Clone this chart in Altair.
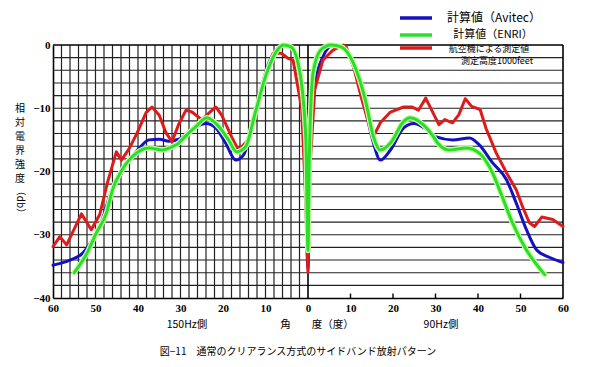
import altair as alt
import pandas as pd

# ---- data (angle: negative = 150Hz side, positive = 90Hz side; dB) ----
blue_angle = [-60, -56, -53, -50.7, -48.4, -46.7, -44.4, -42, -39.7, -37.4, -35, -32.7, -30.4,
              -26.4, -24, -21.7, -19.4, -17, -15.2, -13.3, -11.7, -10, -8.6, -7, -5.4, -3.5,
              -1.6, -0.8, 0, 0.5, 1.9, 3.5, 5.9, 8.3, 10.7, 13, 15.4, 17, 19.4, 22.5, 24.9,
              28, 30, 34, 38, 40.3, 43.4, 46.7, 49, 51.4, 53.8, 56.9, 60]
blue_db = [-34.8, -34.0, -32.9, -30.8, -27.6, -24.0, -20.9, -18.2, -16.3, -15.0, -14.9, -15.2, -14.9,
           -12.9, -12.4, -13.1, -15.5, -18.2, -17.4, -13.4, -8.7, -4.4, -1.9, -0.5, 0, -0.8,
           -7, -15, -35.5, -15, -5.5, -1.9, 0, -0.3, -3.4, -8.7, -15.5, -18.2, -16.6, -13.1, -12.4,
           -13.4, -14.5, -15.0, -14.7, -15.8, -18.6, -21.3, -25, -29.2, -32.4, -33.6, -34.4]

green_angle = [-55, -52, -49.8, -47.4, -46, -43.7, -40.4, -37.4, -34.3, -32, -30.4, -29.7, -26.4,
               -23.8, -21, -18.7, -16.8, -14.7, -12.4, -10, -7.7, -5.8, -4, -1.9, -0.5, 0,
               0.3, 1.2, 3, 5.4, 7.8, 10.7, 13.5, 15.4, 17, 19.4, 22.5, 24, 27.1, 29.5, 30.5,
               33.2, 37.2, 40.3, 43.4, 45.7, 48.1, 51.4, 55.7]
green_db = [-36, -32.9, -29.7, -26.5, -22.9, -19.7, -17.1, -16.3, -16.6, -16.1, -15.5, -15, -12.9,
            -11.5, -12.9, -15, -16.9, -16.1, -10.7, -5, -1.3, 0, -0.3, -4.4, -15, -32.5,
            -18, -4.4, -0.8, 0, -0.3, -2.9, -8.7, -14.5, -16.6, -15.5, -12.1, -11.5, -12.6, -14.5, -15.5,
            -16.6, -16.3, -17.1, -20.2, -24, -28.1, -32.4, -36.3]

red_angle = [-60, -58.4, -56.8, -53.3, -51, -49, -47.2, -45.1, -43.9, -42, -40.2, -38.1, -36.7,
             -35, -33.4, -32, -30.4, -28.7, -27.3, -25, -21.7, -20.3, -18, -16.4, -14, -12.1,
             -10, -8.2, -6.3, -4.7, -3.5, -1.5, -0.5, 0, 0.5, 1.6, 3.5, 5.9, 8.3, 9, 10.7,
             12.5, 14.7, 15.4, 17, 19.4, 22.5, 24.4, 26, 27.7, 29.1, 30.8, 32.2, 34, 35.5, 37,
             38.5, 40.5, 41.9, 44.3, 46.7, 49, 50.5, 52.1, 53.3, 55, 57.6, 60]
red_db = [-31.9, -30.3, -31.6, -26.7, -29.2, -26.8, -21.8, -16.9, -18.2, -16.3, -13.9, -10.7, -9.8,
          -11.1, -13.9, -15.3, -12.5, -10.3, -10.6, -11.8, -9.8, -11.1, -14.5, -16.6, -15, -10.7,
          -5, -1.3, -1.3, -2.1, -2.4, -10, -25, -36, -19, -7, -2.4, -0.8, 0, -0.3, -3.4,
          -8.2, -13.4, -14.5, -12.3, -10.6, -9.8, -9.8, -10.3, -8.4, -10.3, -12.6, -11.8, -12.3, -11, -8.5,
          -9.7, -10.2, -13.2, -17.1, -20.2, -22.9, -25.6, -28.1, -28.7, -27.2, -27.6, -28.7]

x_tick_values = [-60, -50, -40, -30, -20, -10, 0, 10, 20, 30, 40, 50, 60]
y_tick_values = [0, -10, -20, -30, -40]

legend_labels = ["計算値（Avitec）", "計算値（ENRI）", "航空機による測定値", "測定高度1000feet"]
y_title_chars = ["相", "対", "電", "界", "強", "度"]
y_title_unit = "（db）"
x_side_left = "150Hz側"
x_side_right = "90Hz側"
x_title = "角　　度（度）"
caption = "図−11　通常のクリアランス方式のサイドバンド放射パターン"

BLUE = "#1212c4"
GREEN = "#27e027"
GREEN_HALO = "#c9f7a8"
RED = "#de1b1b"
GRID = "#222222"
SERIF = "Liberation Serif"
CJK = "Noto Sans CJK JP"

W, H = 510, 253

xs = alt.Scale(domain=[-60, 60], nice=False, zero=False)
ys = alt.Scale(domain=[-40, 0], nice=False, zero=False)


def df(a, d):
    return pd.DataFrame({"angle": a, "db": d})


# axes layer
axes = alt.Chart(pd.DataFrame({"angle": [-60, 60], "db": [-40, 0]})).mark_point(opacity=0).encode(
    x=alt.X("angle:Q", scale=xs, title=None,
            axis=alt.Axis(values=x_tick_values, labelExpr="abs(datum.value)", tickSize=0,
                          labelPadding=4, grid=False, domainColor="black", domainWidth=1.6,
                          labelFont=SERIF, labelFontSize=11, labelFontWeight="bold",
                          labelColor="black", labelFlush=False)),
    y=alt.Y("db:Q", scale=ys, title=None,
            axis=alt.Axis(values=y_tick_values, tickSize=0, labelPadding=3, grid=False,
                          domainColor="black", domainWidth=1.6, labelFont=SERIF,
                          labelFontSize=11, labelFontWeight="bold", labelColor="black",
                          labelFlush=False)),
)

vgrid = alt.Chart(pd.DataFrame({"angle": list(range(-58, 0, 2))})).mark_rule(
    color=GRID, strokeWidth=1.2).encode(
    x=alt.X("angle:Q", scale=xs), y=alt.datum(-40), y2=alt.datum(0))

hgrid = alt.Chart(pd.DataFrame({"db": list(range(-38, 0, 2))})).mark_rule(
    color=GRID, strokeWidth=1.1).encode(
    y=alt.Y("db:Q", scale=ys), x=alt.datum(-60), x2=alt.datum(60))

vborders = alt.Chart(pd.DataFrame({"angle": [0, 60]})).mark_rule(
    color="black", strokeWidth=1.6).encode(
    x=alt.X("angle:Q", scale=xs), y=alt.datum(-40), y2=alt.datum(0))

top_border = alt.Chart(pd.DataFrame({"db": [0]})).mark_rule(
    color="black", strokeWidth=1.4).encode(
    y=alt.Y("db:Q", scale=ys), x=alt.datum(-60), x2=alt.datum(60))

right_ticks = alt.Chart(pd.DataFrame({"angle": [10, 20, 30, 40, 50]})).mark_rule(
    color="black", strokeWidth=1.4).encode(
    x=alt.X("angle:Q", scale=xs), y=alt.datum(-40), y2=alt.datum(-39.3))


def series(a, d, color, width, interp):
    return alt.Chart(df(a, d)).mark_line(color=color, strokeWidth=width, interpolate=interp,
                                         strokeJoin="round", strokeCap="round").encode(
        x=alt.X("angle:Q", scale=xs), y=alt.Y("db:Q", scale=ys), order="angle:Q")


blue_line = series(blue_angle, blue_db, BLUE, 3, "monotone")
green_halo = series(green_angle, green_db, GREEN_HALO, 5.5, "monotone")
green_line = series(green_angle, green_db, GREEN, 3, "monotone")
red_line = series(red_angle, red_db, RED, 3, "linear")

# legend samples
leg = pd.DataFrame({"c": [BLUE, GREEN, RED], "py": [-27, -10, 3]})
legend_lines = alt.Chart(leg).mark_rule(strokeWidth=3.5).encode(
    x=alt.value(347), x2=alt.value(379), y=alt.Y("py:Q", scale=None),
    color=alt.Color("c:N", scale=None))

texts = pd.DataFrame({
    "t": legend_labels + [x_side_left, x_title, x_side_right, caption],
    "px": [441, 440, 436, 444, 134, 264, 388, 245],
    "py": [-27, -10, 4, 16, 280, 280, 280, 307],
    "s": [12, 11, 9, 9, 10.5, 10.5, 10.5, 10],
})
text_layer = alt.Chart(texts).mark_text(font=CJK, color="black", align="center",
                                        baseline="middle").encode(
    x=alt.X("px:Q", scale=None), y=alt.Y("py:Q", scale=None), text="t:N",
    size=alt.Size("s:Q", scale=None))

ytitle = pd.DataFrame({"t": y_title_chars, "py": [64, 78, 92, 106, 120, 134]})
ytitle_layer = alt.Chart(ytitle).mark_text(font=CJK, fontSize=10, color="black",
                                           align="center", baseline="middle").encode(
    x=alt.value(-33), y=alt.Y("py:Q", scale=None), text="t:N")

yunit_layer = alt.Chart(pd.DataFrame({"t": [y_title_unit]})).mark_text(
    font=CJK, fontSize=10, color="black", angle=90, align="center", baseline="middle").encode(
    x=alt.value(-33), y=alt.value(157), text="t:N")

chart = alt.layer(
    axes, vgrid, hgrid, vborders, top_border, right_ticks,
    blue_line, red_line, green_halo, green_line,
    legend_lines, text_layer, ytitle_layer, yunit_layer,
).properties(
    width=W, height=H,
    autosize=alt.AutoSizeParams(type="none"),
    padding={"left": 45, "top": 37, "right": 19, "bottom": 61},
    background="white",
).configure_view(stroke=None)

chart.save("out.html", embed_options={"renderer": "svg", "actions": False})
